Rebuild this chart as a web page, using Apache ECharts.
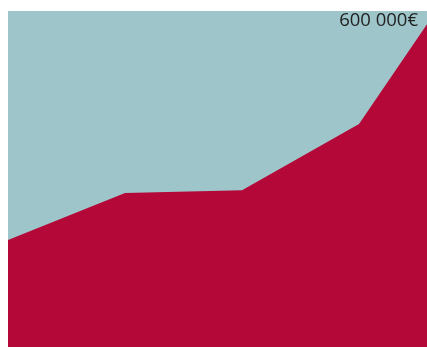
<!DOCTYPE html>
<html>
<head>
<meta charset="utf-8">
<script src="https://cdn.jsdelivr.net/npm/echarts@6/dist/echarts.min.js"></script>
<style>
  html, body { margin: 0; padding: 0; background: #fff; }
  #chart { width: 427px; height: 347px; }
</style>
</head>
<body>
<div id="chart"></div>
<script>
const categories = ["1", "2", "3", "4", "5"];
const values = [191000, 275000, 280000, 398000, 705000];
const maxValue = 600000;
const maxLabel = "600 000€";

const chart = echarts.init(document.getElementById("chart"));

chart.setOption({
    animation: false,
    grid: {
        left: 8,
        top: 11,
        right: -49,
        bottom: 0,
        outerBoundsMode: "none",
        show: true,
        backgroundColor: "#9ec6ca",
        borderWidth: 0
    },
    xAxis: {
        type: "category",
        data: categories,
        boundaryGap: false,
        show: false
    },
    yAxis: {
        type: "value",
        min: 0,
        max: maxValue,
        show: false
    },
    graphic: [{
        type: "text",
        right: 9,
        top: 11,
        z: 100,
        style: {
            text: maxLabel,
            font: "18.5px 'Open Sans', sans-serif",
            fill: "#222"
        }
    }],
    series: [{
        type: "line",
        data: values,
        symbol: "none",
        lineStyle: { width: 0 },
        areaStyle: { color: "#b30838", opacity: 1 },
        clip: true
    }]
});
</script>
</body>
</html>
